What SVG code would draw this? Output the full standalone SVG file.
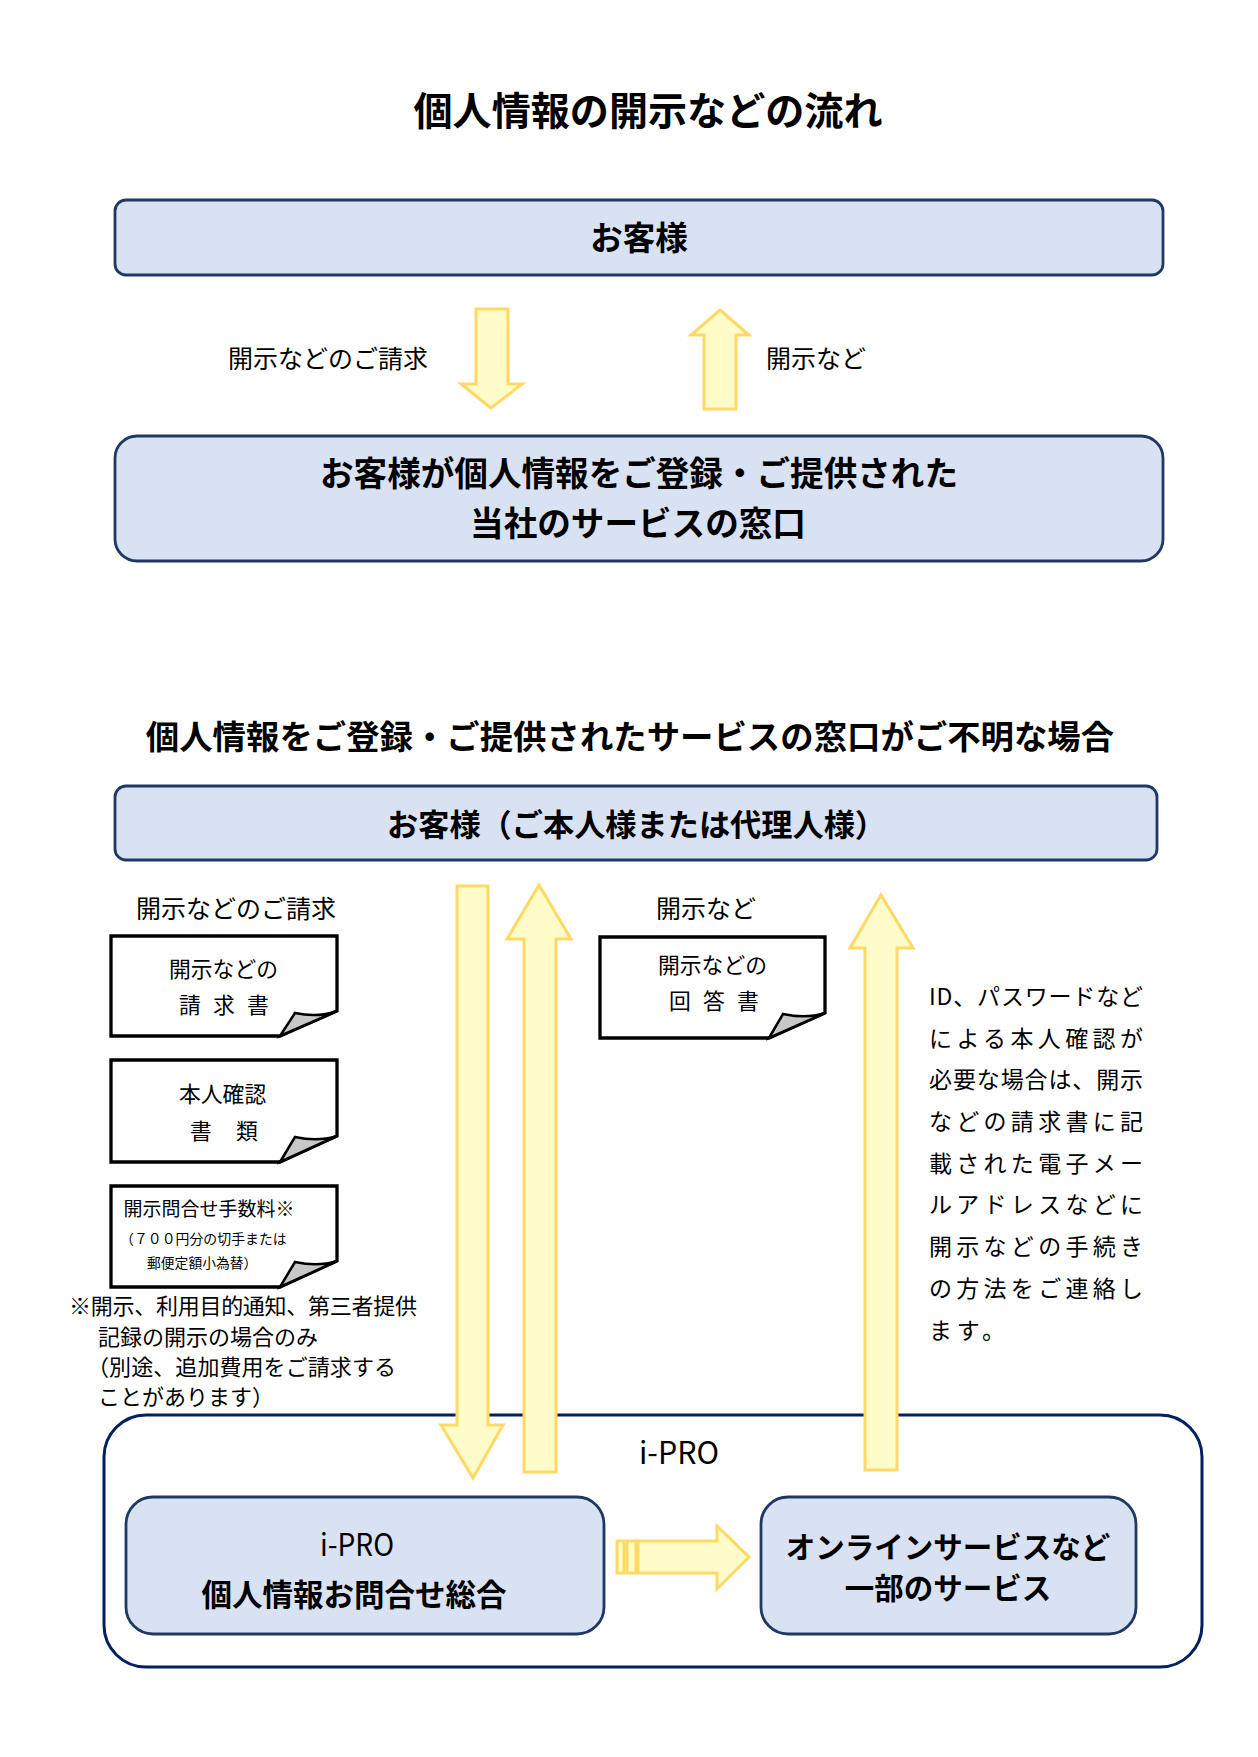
<svg xmlns="http://www.w3.org/2000/svg" width="1258" height="1757" viewBox="0 0 1258 1757">
<style>
text{font-family:"Noto Sans CJK JP","Noto Sans",sans-serif;fill:#000}
.b{font-weight:700}
.box{fill:#d9e2f3;stroke:#1f3864;stroke-width:2.8}
.arrow{fill:#fffcca;stroke:#ffd966;stroke-width:3}
.doc{fill:#fff;stroke:#000;stroke-width:3.3}
.fold{fill:#c8c8c8;stroke:#000;stroke-width:2.5}
.t25{font-size:25px}.t22{font-size:21.8px}.m{text-anchor:middle}
</style>
<rect width="1258" height="1757" fill="#fff"/>
<text class="b m" x="648" y="125" font-size="39.1">個人情報の開示などの流れ</text>
<text class="b m" x="630" y="749" font-size="33.4">個人情報をご登録・ご提供されたサービスの窓口がご不明な場合</text>
<g id="customer1"><rect class="box" x="115" y="200" width="1048" height="75" rx="11"/><text class="b m" x="639" y="250" font-size="32.5">お客様</text></g>
<g id="counter"><rect class="box" x="115" y="436" width="1048" height="125" rx="22"/><text class="b m" x="639" y="486" font-size="33.6">お客様が個人情報をご登録・ご提供された</text><text class="b m" x="638" y="536" font-size="33.6">当社のサービスの窓口</text></g>
<g id="customer2"><rect class="box" x="115" y="786" width="1042" height="74" rx="11"/><text class="b" x="387" y="836" font-size="31.2">お客様（ご本人様または代理人様）</text></g>
<g id="ipro"><rect x="104" y="1415" width="1098" height="252" rx="42" fill="#fff" stroke="#002060" stroke-width="3"/><text x="639" y="1464" font-size="31" textLength="80" lengthAdjust="spacingAndGlyphs">i-PRO</text></g>
<g id="ipro-desk"><rect class="box" x="126" y="1497" width="478" height="137" rx="27"/><text x="320" y="1556" font-size="31" textLength="74" lengthAdjust="spacingAndGlyphs">i-PRO</text><text class="b m" x="354" y="1606" font-size="30.5">個人情報お問合せ総合</text></g>
<g id="online"><rect class="box" x="761" y="1497" width="375" height="137" rx="27"/><text class="b m" x="948" y="1558" font-size="29.5">オンラインサービスなど</text><text class="b m" x="948" y="1599" font-size="29.5">一部のサービス</text></g>
<g id="connectors">
<path class="arrow" d="M476 309H508V384H522L491 408L461 384H476Z"/>
<path class="arrow" d="M720 310L749 335H736V409H704V335H691Z"/>
<path class="arrow" d="M457 886H488V1425H503L473 1478L441 1425H457Z"/>
<path class="arrow" d="M539 885L571 939H556V1472H524V939H507Z"/>
<path class="arrow" d="M881 895L913 948H897V1470H865V948H850Z"/>
<path class="arrow" d="M638 1541H717V1526L749 1557L717 1589V1573H638Z"/>
<rect class="arrow" x="617" y="1541" width="7" height="32"/><rect class="arrow" x="627" y="1541" width="9" height="32"/>
</g>
<text class="t25" x="228" y="368">開示などのご請求</text>
<text class="t25" x="766" y="368">開示など</text>
<text class="t25" x="136" y="918">開示などのご請求</text>
<text class="t25" x="656" y="918">開示など</text>
<g id="doc1"><path class="doc" d="M111 936H337V1011L280 1036H111Z"/><path class="fold" d="M280 1036L295 1013Q318 1018 337 1011Z"/><text class="t22" x="169" y="977">開示などの</text><text class="t22" x="179 213 247" y="1013">請求書</text></g>
<g id="doc2"><path class="doc" d="M111 1060H337V1136L280 1162H111Z"/><path class="fold" d="M280 1162L295 1137Q318 1142 337 1136Z"/><text class="t22" x="179" y="1102">本人確認</text><text class="t22" x="190 236" y="1139">書類</text></g>
<g id="doc3"><path class="doc" d="M111 1186H337V1261L280 1287H111Z"/><path class="fold" d="M280 1287L295 1262Q318 1267 337 1261Z"/><text x="123.500" y="1216" font-size="19">開示問合せ手数料※</text><text x="120" y="1244" font-size="13.9">（７００円分の切手または</text><text x="147" y="1268" font-size="13.8">郵便定額小為替）</text></g>
<g id="doc4"><path class="doc" d="M600 937H825V1013L769 1038H600Z"/><path class="fold" d="M769 1038L783 1014Q806 1019 825 1013Z"/><text class="t22" x="658" y="973">開示などの</text><text class="t22" x="669 703 737" y="1009">回答書</text></g>
<g id="note" font-size="22"><text x="69" y="1314" textLength="348">※開示、利用目的通知、第三者提供</text><text x="98" y="1345">記録の開示の場合のみ</text><text x="87" y="1375" textLength="309">（別途、追加費用をご請求する</text><text x="98" y="1405">ことがあります）</text></g>
<g id="idnote" font-size="23">
<text x="929" y="1005" textLength="214">ID、パスワードなど</text>
<text x="929" y="1047" textLength="214">による本人確認が</text>
<text x="929" y="1088" textLength="214">必要な場合は、開示</text>
<text x="929" y="1130" textLength="214">などの請求書に記</text>
<text x="929" y="1172" textLength="214">載された電子メー</text>
<text x="929" y="1213" textLength="214">ルアドレスなどに</text>
<text x="929" y="1255" textLength="214">開示などの手続き</text>
<text x="929" y="1297" textLength="214">の方法をご連絡し</text>
<text x="929" y="1339" textLength="76">ます。</text>
</g>
</svg>
